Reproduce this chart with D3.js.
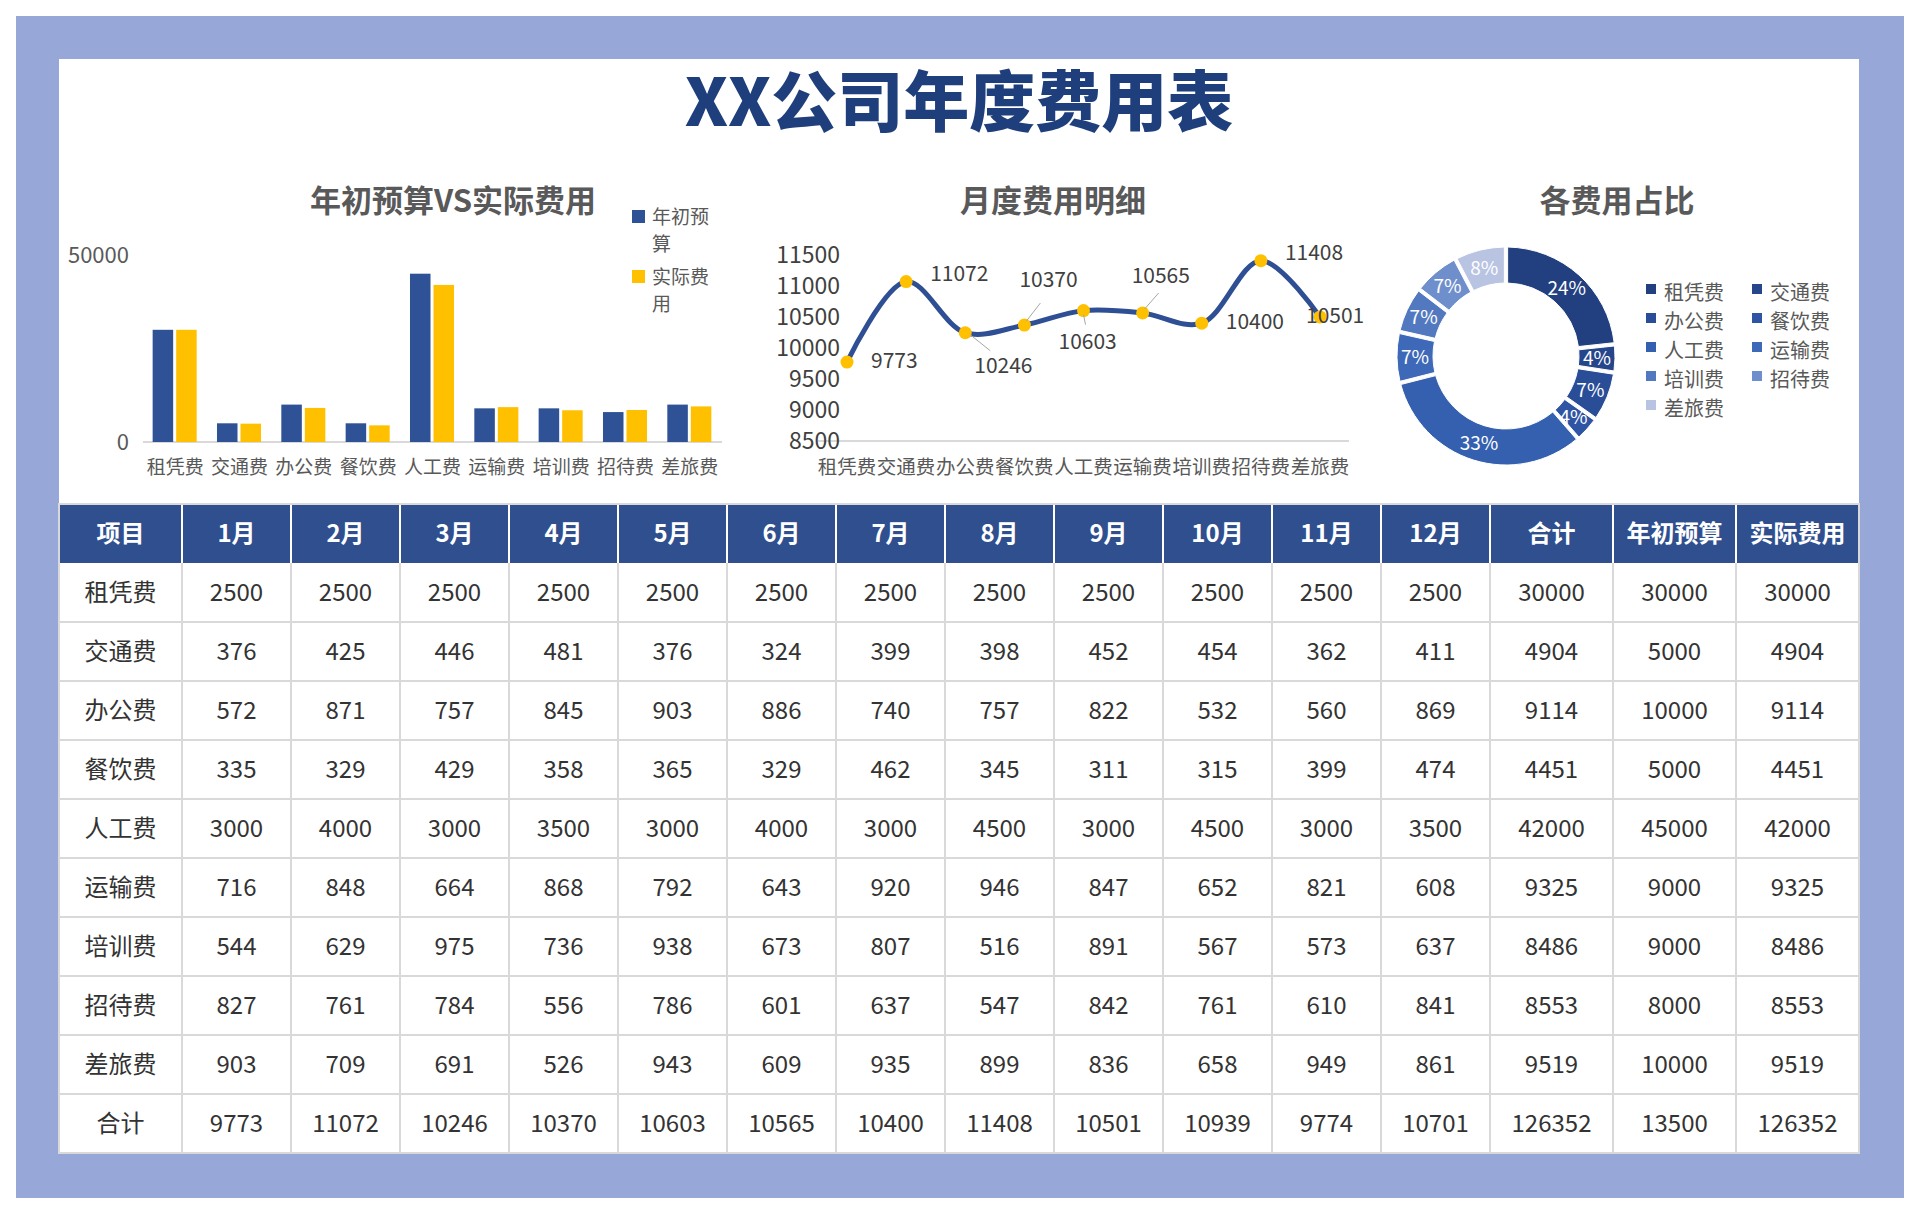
<!DOCTYPE html>
<html><head><meta charset="utf-8">
<script src="https://cdn.jsdelivr.net/npm/d3@7"></script>
<style>body{margin:0;background:#fff}svg{display:block}text{font-family:"Noto Sans CJK SC","Noto Sans",sans-serif}</style>
</head><body><svg id="c" width="1920" height="1210"></svg>
<script>
const categories = ["租凭费","交通费","办公费","餐饮费","人工费","运输费","培训费","招待费","差旅费"];
const budget = [30000,5000,10000,5000,45000,9000,9000,8000,10000];
const actual = [30000,4904,9114,4451,42000,9325,8486,8553,9519];
const lineValues = [9773,11072,10246,10370,10603,10565,10400,11408,10501];
const barTicks = [0,50000];
const lineTicks = [8500,9000,9500,10000,10500,11000,11500];
const months = ["1月","2月","3月","4月","5月","6月","7月","8月","9月","10月","11月","12月"];
const tableHeader = ["项目",...months,"合计","年初预算","实际费用"];
const tableRows = [
 ["租凭费",2500,2500,2500,2500,2500,2500,2500,2500,2500,2500,2500,2500,30000,30000,30000],
 ["交通费",376,425,446,481,376,324,399,398,452,454,362,411,4904,5000,4904],
 ["办公费",572,871,757,845,903,886,740,757,822,532,560,869,9114,10000,9114],
 ["餐饮费",335,329,429,358,365,329,462,345,311,315,399,474,4451,5000,4451],
 ["人工费",3000,4000,3000,3500,3000,4000,3000,4500,3000,4500,3000,3500,42000,45000,42000],
 ["运输费",716,848,664,868,792,643,920,946,847,652,821,608,9325,9000,9325],
 ["培训费",544,629,975,736,938,673,807,516,891,567,573,637,8486,9000,8486],
 ["招待费",827,761,784,556,786,601,637,547,842,761,610,841,8553,8000,8553],
 ["差旅费",903,709,691,526,943,609,935,899,836,658,949,861,9519,10000,9519],
 ["合计",9773,11072,10246,10370,10603,10565,10400,11408,10501,10939,9774,10701,126352,13500,126352]
];
const pieColors = ["#22407F","#26468C","#2A4D98","#2E54A3","#3560B0","#3D69B8","#5279C0","#6F8FCC","#B9C4E3"];

const svg = d3.select("#c");
svg.append("rect").attr("x",16).attr("y",16).attr("width",1888).attr("height",1182).attr("fill","#97A7D7");
svg.append("rect").attr("x",59).attr("y",59).attr("width",1800).attr("height",1094).attr("fill","#fff");
svg.append("text").attr("x",959).attr("y",126).attr("text-anchor","middle").attr("font-size",66).attr("font-weight",900)
  .attr("fill","#1F3F7C").attr("font-family","'Noto Serif CJK SC','Noto Sans CJK SC',serif").text("XX公司年度费用表");

const titleStyle = s => s.attr("font-size",31).attr("font-weight",700).attr("fill","#595959").attr("text-anchor","middle");

// ---- bar chart
svg.append("text").attr("x",453).attr("y",212).call(titleStyle).text("年初预算VS实际费用");
const xb = d3.scaleBand().domain(categories).range([143,722]).paddingInner(0.3).paddingOuter(0.15);
const yb = d3.scaleLinear().domain([0,50000]).range([442,255]);
svg.append("line").attr("x1",143).attr("x2",722).attr("y1",442).attr("y2",442).attr("stroke","#d9d9d9").attr("stroke-width",2);
const bw = xb.bandwidth()/2;
const gb = svg.append("g");
gb.selectAll(".b1").data(categories).join("rect").attr("x",d=>xb(d)).attr("width",bw-2)
  .attr("y",(d,i)=>yb(budget[i])).attr("height",(d,i)=>442-yb(budget[i])).attr("fill","#2F5196");
gb.selectAll(".b2").data(categories).join("rect").attr("x",d=>xb(d)+bw+1).attr("width",bw-2)
  .attr("y",(d,i)=>yb(actual[i])).attr("height",(d,i)=>442-yb(actual[i])).attr("fill","#FFC000");
svg.append("g").selectAll("text").data(barTicks).join("text").attr("x",129).attr("y",d=>yb(d)+8)
  .attr("text-anchor","end").attr("font-size",22).attr("fill","#595959").text(d=>d);
svg.append("g").selectAll("text").data(categories).join("text").attr("x",d=>xb(d)+xb.bandwidth()/2).attr("y",474)
  .attr("text-anchor","middle").attr("font-size",19).attr("fill","#595959").text(d=>d);
[["#2F5196",["年初预","算"],224],["#FFC000",["实际费","用"],284]].forEach(([c,t,y])=>{
  svg.append("rect").attr("x",632).attr("y",y-14).attr("width",13).attr("height",13).attr("fill",c);
  t.forEach((s,i)=>svg.append("text").attr("x",652).attr("y",y+i*27).attr("font-size",19).attr("fill","#595959").text(s));
});

// ---- line chart
svg.append("text").attr("x",1053).attr("y",212).call(titleStyle).text("月度费用明细");
const xl = d3.scalePoint().domain(categories).range([847,1320]);
const yl = d3.scaleLinear().domain([8500,11500]).range([441,255]);
svg.append("line").attr("x1",818).attr("x2",1349).attr("y1",441).attr("y2",441).attr("stroke","#d9d9d9").attr("stroke-width",2);
svg.append("g").selectAll("text").data(lineTicks).join("text").attr("x",840).attr("y",d=>yl(d)+8)
  .attr("text-anchor","end").attr("font-size",23).attr("fill","#404040").text(d=>d);
svg.append("g").selectAll("text").data(categories).join("text").attr("x",d=>xl(d)).attr("y",474)
  .attr("text-anchor","middle").attr("font-size",19.5).attr("fill","#595959").text(d=>d);
const line = d3.line().x((d,i)=>xl(categories[i])).y(d=>yl(d)).curve(d3.curveCatmullRom.alpha(0.5));
svg.append("path").attr("d",line(lineValues)).attr("fill","none").attr("stroke","#2F4F94").attr("stroke-width",5);
svg.append("g").selectAll("circle").data(lineValues).join("circle").attr("cx",(d,i)=>xl(categories[i])).attr("cy",d=>yl(d))
  .attr("r",6.5).attr("fill","#FFC000");
const labelOff = [[24,6],[24,-1],[9,40],[-5,-38],[-25,38],[-11,-30],[24,6],[24,-1],[-14,6]];
const leader = [null,null,[[5,2],[25,18]],[[2,-4],[16,-22]],[[0,4],[2,14]],[[2,-4],[16,-20]],null,null,null];
svg.append("g").selectAll("path").data(lineValues).join("path").attr("d",(d,i)=>{const l=leader[i];if(!l)return null;
  const x=xl(categories[i]),y=yl(d);return `M${x+l[0][0]},${y+l[0][1]}L${x+l[1][0]},${y+l[1][1]}`;})
  .attr("stroke","#a6a6a6").attr("fill","none");
svg.append("g").selectAll("text").data(lineValues).join("text").attr("x",(d,i)=>xl(categories[i])+labelOff[i][0])
  .attr("y",(d,i)=>yl(d)+labelOff[i][1]).attr("font-size",21).attr("fill","#404040").text(d=>d);

// ---- donut
svg.append("text").attr("x",1617).attr("y",212).call(titleStyle).text("各费用占比");
const total = d3.sum(actual);
const pie = d3.pie().sort(null).padAngle(0.025)(actual);
const arc = d3.arc().innerRadius(73).outerRadius(109);
const gp = svg.append("g").attr("transform","translate(1506,356)");
gp.selectAll("path").data(pie).join("path").attr("d",arc).attr("fill",(d,i)=>pieColors[i]).attr("stroke","#fff").attr("stroke-width",1);
gp.selectAll("text").data(pie).join("text").attr("transform",d=>`translate(${arc.centroid(d)})`).attr("dy",7)
  .attr("text-anchor","middle").attr("font-size",19).attr("fill","#fff").text(d=>Math.round(d.data/total*100)+"%");
const lg = svg.append("g");
categories.forEach((c,i)=>{
  const x = 1646 + (i%2)*106, y = 293 + Math.floor(i/2)*29;
  lg.append("rect").attr("x",x).attr("y",y-9).attr("width",10).attr("height",10).attr("fill",pieColors[i]);
  lg.append("text").attr("x",x+18).attr("y",y+7).attr("font-size",20).attr("fill","#595959").text(c);
});

// ---- table
const colX = [59,182];
for(let i=0;i<12;i++) colX.push(182+109*(i+1));
colX.push(1613,1736,1859);
const rowY = d3.range(12).map(i=>504+i*59);
const gt = svg.append("g");
gt.append("rect").attr("x",59).attr("y",504).attr("width",1800).attr("height",59).attr("fill","#2F4F8F");
gt.selectAll(".h").data(tableHeader).join("text").attr("x",(d,i)=>(colX[i]+colX[i+1])/2).attr("y",542)
  .attr("text-anchor","middle").attr("font-size",24).attr("font-weight",700).attr("fill","#fff").text(d=>d);
tableRows.forEach((r,ri)=>{
  const y = rowY[ri+1];
  gt.append("g").selectAll("text").data(r).join("text").attr("x",(d,i)=>(colX[i]+colX[i+1])/2).attr("y",y+38)
    .attr("text-anchor","middle").attr("font-size",24).attr("fill","#333").text(d=>d);
});
for(let i=2;i<=11;i++) gt.append("line").attr("x1",59).attr("x2",1859).attr("y1",rowY[i]).attr("y2",rowY[i]).attr("stroke","#d9d9d9").attr("stroke-width",2);
colX.slice(1,-1).forEach(x=>{
  gt.append("line").attr("x1",x).attr("x2",x).attr("y1",504).attr("y2",563).attr("stroke","#fff").attr("stroke-width",2);
  gt.append("line").attr("x1",x).attr("x2",x).attr("y1",563).attr("y2",1153).attr("stroke","#d9d9d9").attr("stroke-width",2);
});
gt.append("rect").attr("x",59).attr("y",504).attr("width",1800).attr("height",649).attr("fill","none").attr("stroke","#d9d9d9").attr("stroke-width",2);
</script></body></html>
